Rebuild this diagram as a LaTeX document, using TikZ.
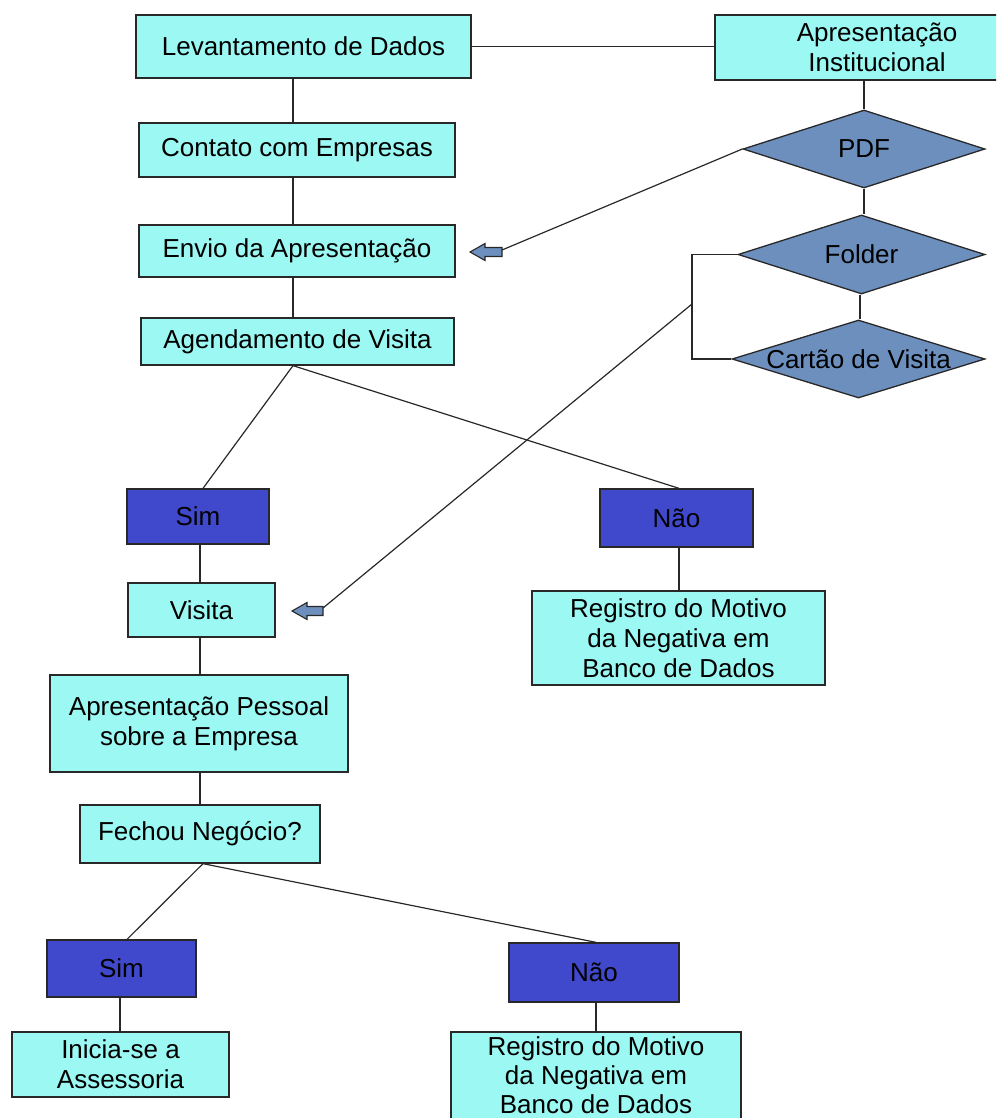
\documentclass[tikz,border=0pt]{standalone}
\usepackage{fontspec}
\setmainfont{Liberation Sans}
\usetikzlibrary{shapes.geometric}
\definecolor{cyanbox}{RGB}{156,248,243}
\definecolor{darkbox}{RGB}{64,72,204}
\definecolor{diafill}{RGB}{108,143,190}
\definecolor{linecol}{RGB}{40,40,40}
\begin{document}
\begin{tikzpicture}[x=1pt,y=-1pt,
  every node/.style={font=\fontsize{26}{30}\selectfont, align=center, inner sep=0pt, text=black},
  box/.style 2 args={rectangle, draw=linecol, line width=1.3pt, fill=cyanbox, minimum width=#1, minimum height=#2},
  dbox/.style 2 args={rectangle, draw=linecol, line width=1.3pt, fill=darkbox, minimum width=#1, minimum height=#2},
  dia/.style 2 args={diamond, draw=linecol, line width=1.3pt, fill=diafill, minimum width=#1, minimum height=#2},
  conn/.style={draw=linecol, line width=1.2pt},
  blockarrow/.style={draw=linecol, line width=1.1pt, fill=diafill, line join=miter}]
\useasboundingbox (0,0) rectangle (996,1118);
\clip (0,0) rectangle (996,1118);
\coordinate (ax) at (293,0);
% main column
\node[box={335}{63}] (lev) at (303.5,46.5) {Levantamento de Dados};
\node[box={324}{65}] (apr) at (877,47.5) {Apresentação\\Institucional};
\node[box={316}{54}] (cont) at (297,150) {Contato com Empresas};
\node[box={316}{52}] (env) at (297,251) {Envio da Apresentação};
\node[box={313}{47}] (agend) at (297.5,341.5) {Agendamento de Visita};
% diamonds
\node[dia={242}{78}, label={center:PDF}] (pdf) at (864,149) {};
\node[dia={247}{79}, label={center:Folder}] (folder) at (861.5,254.5) {};
\node[dia={253}{78}, label={center:Cartão de Visita}] (cartao) at (858.5,359) {};
% first decision
\node[dbox={142}{55}] (sim1) at (198,516.5) {Sim};
\node[dbox={153}{58}] (nao1) at (676.5,518) {Não};
\node[box={147}{54}] (visita) at (201.5,610) {Visita};
\node[box={293}{94}] (reg1) at (678.5,638) {Registro do Motivo\\da Negativa em\\Banco de Dados};
\node[box={298}{97}] (app) at (199,723.5) {Apresentação Pessoal\\sobre a Empresa};
\node[box={240}{58}] (fech) at (200,834) {Fechou Negócio?};
% second decision
\node[dbox={149}{57}] (sim2) at (121.5,968.5) {Sim};
\node[dbox={170}{59}] (nao2) at (594,972.5) {Não};
\node[box={217}{65}] (ini) at (120.5,1064.5) {Inicia-se a\\Assessoria};
\node[box={290}{94}, text height=0pt] (reg2) at (596,1079) {};
\node[font=\fontsize{26}{29}\selectfont] (reg2text) at (596,1075) {Registro do Motivo\\da Negativa em\\Banco de Dados};
% block arrows
\draw[blockarrow] (470,252) -- (485,243.5) -- (485,247.5) -- (502,247.5) -- (502,256.5) -- (485,256.5) -- (485,260.5) -- cycle;
\coordinate (arr1) at (502,250);
\draw[blockarrow] (292,611) -- (307,602.5) -- (307,606.5) -- (323,606.5) -- (323,615.5) -- (307,615.5) -- (307,619.5) -- cycle;
\coordinate (arr2) at (323,608);
\coordinate (brk) at (692,304);
% connectors
\draw[conn] (lev.east) -- (lev.east -| apr.west);
\draw[conn] (ax |- lev.south) -- (ax |- cont.north);
\draw[conn] (ax |- cont.south) -- (ax |- env.north);
\draw[conn] (ax |- env.south) -- (ax |- agend.north);
\draw[conn] (pdf.north |- apr.south) -- (pdf.north);
\draw[conn] (pdf.south) -- (pdf.south |- folder.north);
\draw[conn] (folder.south -| 860,0) -- (cartao.north -| 860,0);
\draw[conn] (pdf.west) -- (arr1);
\draw[conn] (folder.west) -- (folder.west -| brk) -- (cartao.west -| brk) -- (cartao.west);
\draw[conn] (brk) -- (arr2);
\draw[conn] (ax |- agend.south) -- (203,0 |- sim1.north);
\draw[conn] (ax |- agend.south) -- (679,0 |- nao1.north);
\draw[conn] (200,0 |- sim1.south) -- (200,0 |- visita.north);
\draw[conn] (679,0 |- nao1.south) -- (679,0 |- reg1.north);
\draw[conn] (200,0 |- visita.south) -- (200,0 |- app.north);
\draw[conn] (200,0 |- app.south) -- (200,0 |- fech.north);
\draw[conn] (203,0 |- fech.south) -- (127,0 |- sim2.north);
\draw[conn] (203,0 |- fech.south) -- (596,0 |- nao2.north);
\draw[conn] (120,0 |- sim2.south) -- (120,0 |- ini.north);
\draw[conn] (596,0 |- nao2.south) -- (596,0 |- reg2.north);
\end{tikzpicture}
\end{document}
